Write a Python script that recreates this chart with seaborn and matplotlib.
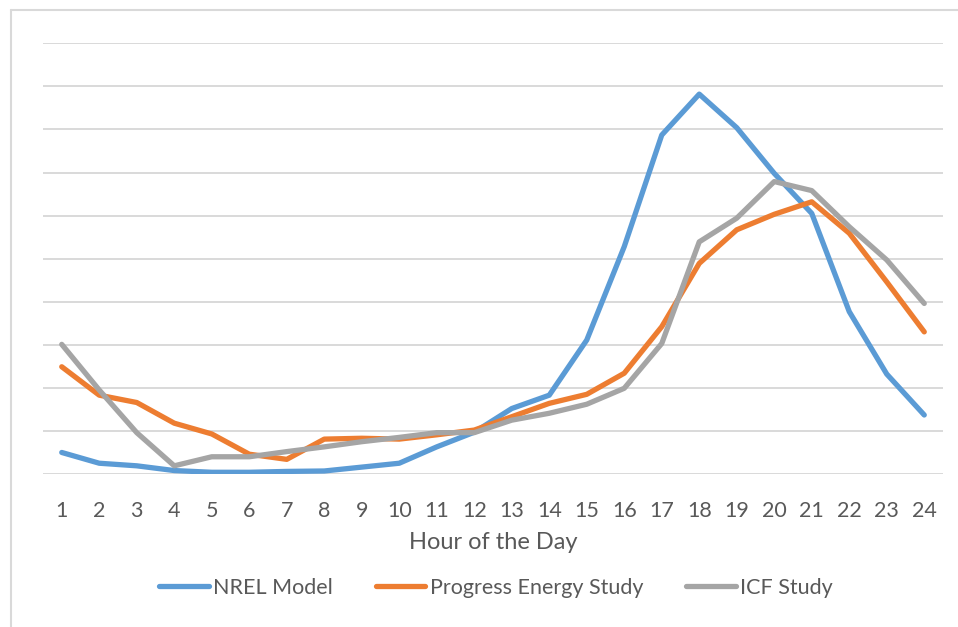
import matplotlib
matplotlib.use("Agg")
import matplotlib.pyplot as plt
import seaborn as sns
import pandas as pd
from matplotlib.lines import Line2D

hours = list(range(1, 25))
nrel = [0.50, 0.25, 0.19, 0.08, 0.04, 0.04, 0.06, 0.07, 0.16, 0.25, 0.63, 0.97,
        1.52, 1.83, 3.11, 5.28, 7.87, 8.82, 8.04, 6.98, 6.05, 3.77, 2.32, 1.37]
progress = [2.49, 1.83, 1.66, 1.18, 0.93, 0.46, 0.34, 0.81, 0.83, 0.81, 0.91, 1.02,
            1.33, 1.64, 1.85, 2.34, 3.42, 4.89, 5.67, 6.03, 6.32, 5.59, 4.46, 3.30]
icf = [3.01, 1.95, 0.96, 0.19, 0.40, 0.40, 0.52, 0.63, 0.75, 0.85, 0.96, 0.96,
       1.25, 1.41, 1.62, 1.99, 3.03, 5.39, 5.94, 6.79, 6.58, 5.74, 4.97, 3.96]
series_names = ["NREL Model", "Progress Energy Study", "ICF Study"]
colors = ["#5B9BD5", "#ED7D31", "#A5A5A5"]

df = pd.DataFrame({
    "Hour": hours * 3,
    "Value": nrel + progress + icf,
    "Series": [series_names[0]] * 24 + [series_names[1]] * 24 + [series_names[2]] * 24,
})

sns.set_theme(style="white")
plt.rcParams["font.family"] = ["Lato", "DejaVu Sans"]

W, H = 958, 627
fig = plt.figure(figsize=(W / 100, H / 100), dpi=100)
ax = fig.add_axes([43 / W, 1 - 474 / H, 900 / W, (474 - 43.3) / H])

sns.lineplot(data=df, x="Hour", y="Value", hue="Series", palette=colors,
             linewidth=3.8, ax=ax, legend=False, sort=False)

ax.set_xlim(0.5, 24.5)
ax.set_ylim(0, 10)
ax.set_yticks(range(0, 11))
ax.set_yticklabels([])
ax.set_xticks(hours)
ax.set_xticklabels([str(h) for h in hours], fontsize=15.5, color="#595959")
ax.tick_params(axis="x", length=0, pad=19.5)
ax.tick_params(axis="y", length=0)
ax.grid(axis="y", color="#D9D9D9", linewidth=1.4)
ax.grid(axis="x", visible=False)
ax.set_axisbelow(True)
for s in ax.spines.values():
    s.set_visible(False)
ax.set_xlabel("Hour of the Day", fontsize=17, color="#595959", labelpad=8)
ax.set_ylabel("")

handles = [Line2D([], [], color=c, linewidth=3.8, solid_capstyle="round") for c in colors]
fig.legend(handles, series_names, loc="center", bbox_to_anchor=(496 / W, 1 - 588 / H),
           ncol=3, frameon=False, fontsize=15.5, handlelength=2.3, handletextpad=0.2,
           columnspacing=2.0, labelcolor="#595959")

# outer chart border (left and top visible)
fig.add_artist(Line2D([11 / W, 11 / W], [0, 1 - 10 / H], transform=fig.transFigure,
                     color="#D9D9D9", linewidth=1.5))
fig.add_artist(Line2D([11 / W, 1], [1 - 10 / H, 1 - 10 / H], transform=fig.transFigure,
                     color="#D9D9D9", linewidth=1.5))

fig.savefig("out.png", dpi=100)
